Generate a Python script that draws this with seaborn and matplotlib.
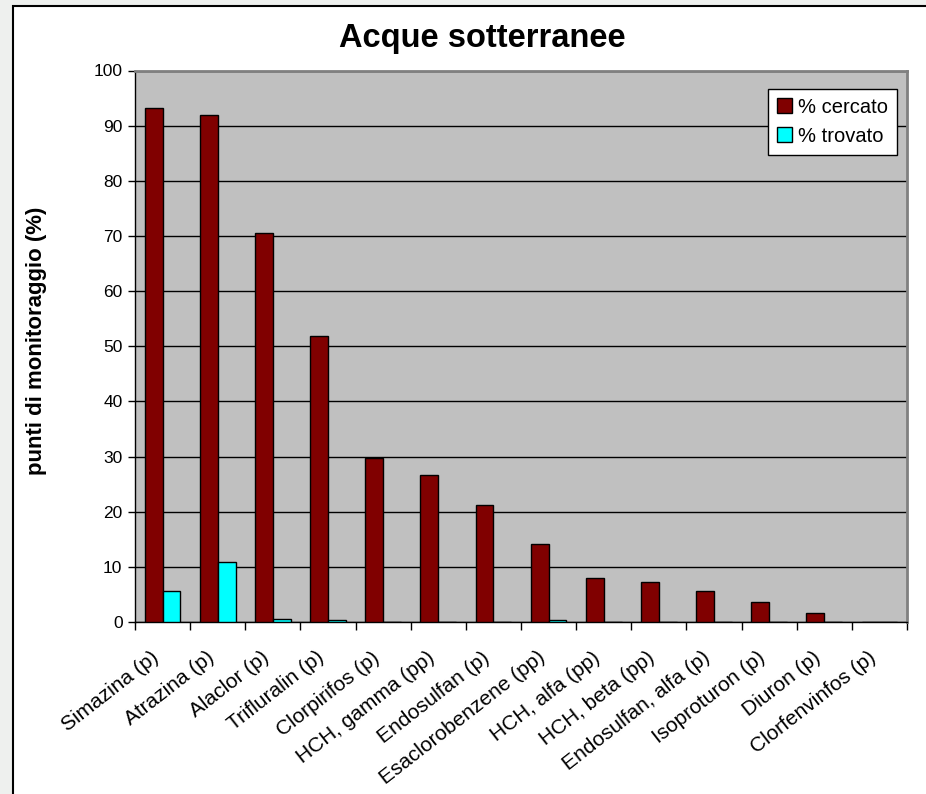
import numpy as np
import pandas as pd
import matplotlib
matplotlib.use("Agg")
import matplotlib.pyplot as plt
from matplotlib.patches import Rectangle
from matplotlib.transforms import ScaledTranslation
import seaborn as sns

# Data
sostanze = ["Simazina (p)", "Atrazina (p)", "Alaclor (p)", "Trifluralin (p)",
            "Clorpirifos (p)", "HCH, gamma (pp)", "Endosulfan (p)",
            "Esaclorobenzene (pp)", "HCH, alfa (pp)", "HCH, beta (pp)",
            "Endosulfan, alfa (p)", "Isoproturon (p)", "Diuron (p)",
            "Clorfenvinfos (p)"]
cercato = [93.2, 92.0, 70.5, 51.9, 29.7, 26.6, 21.2, 14.2, 8.0, 7.2, 5.7, 3.6, 1.6, 0.0]
trovato = [5.6, 10.8, 0.5, 0.3, 0.0, 0.0, 0.0, 0.3, 0.0, 0.0, 0.0, 0.0, 0.0, 0.0]

df = pd.DataFrame({"Sostanza": sostanze * 2,
                   "Valore": cercato + trovato,
                   "Serie": ["% cercato"] * len(sostanze) + ["% trovato"] * len(sostanze)})

sns.set_style("white")
plt.rcParams["font.family"] = ["Liberation Sans", "DejaVu Sans"]
plt.rcParams.update({"text.color": "black", "axes.labelcolor": "black",
                     "xtick.color": "black", "ytick.color": "black"})

fig = plt.figure(figsize=(9.26, 7.94), dpi=100, facecolor="#eef0ee")
# white chart area with a black frame on left/top
fig.patches.append(Rectangle((13 / 926, -0.05), 1.0, 1.05 - 6 / 794, transform=fig.transFigure,
                             facecolor="white", edgecolor="black", linewidth=1.5, zorder=-10))

ax = fig.add_axes([135 / 926, 1 - 622 / 794, (907 - 135) / 926, (622 - 70.5) / 794])
ax.set_facecolor("#c0c0c0")

sns.barplot(data=df, x="Sostanza", y="Valore", hue="Serie",
            palette={"% cercato": "#800000", "% trovato": "#00ffff"}, saturation=1,
            width=0.65, gap=0, edgecolor="black", linewidth=1, ax=ax, zorder=3)

ax.set_ylim(0, 100)
ax.set_xlim(-0.5, len(sostanze) - 0.5)
ax.set_yticks(np.arange(0, 101, 10))
ax.yaxis.grid(True, color="black", linewidth=1)
ax.set_axisbelow(True)
ax.tick_params(axis="y", direction="out", length=5, width=1, color="black",
               labelcolor="black", labelsize=12.5, left=True, pad=4)

ax.set_xticks(range(len(sostanze)))
ax.set_xticklabels(sostanze, rotation=38, ha="right", va="center",
                   rotation_mode="anchor", fontsize=15, color="black")
ax.tick_params(axis="x", which="major", length=0, pad=24)
shift = ScaledTranslation(-6 / 100, 0, fig.dpi_scale_trans)
for lab in ax.get_xticklabels():
    lab.set_transform(lab.get_transform() + shift)
ax.set_xticks(np.arange(-0.5, len(sostanze), 1), minor=True)
ax.tick_params(axis="x", which="minor", direction="out", length=6, width=1, color="black", bottom=True)

for side in ["left", "bottom"]:
    ax.spines[side].set_color("black")
    ax.spines[side].set_linewidth(1)
for side in ["top", "right"]:
    ax.spines[side].set_visible(True)
    ax.spines[side].set_color("#808080")
    ax.spines[side].set_linewidth(2)

ax.set_xlabel("")
ax.set_ylabel("punti di monitoraggio (%)", fontsize=16, fontweight="bold", va="center", color="black")
ax.yaxis.set_label_coords(-0.127, 0.51)
fig.text(482 / 926, 1 - 39 / 794, "Acque sotterranee", fontsize=23.5,
         fontweight="bold", ha="center", va="center", color="black")

leg = ax.legend(loc="upper right", bbox_to_anchor=(0.987, 0.967), fontsize=14.5,
                frameon=True, fancybox=False, edgecolor="black", framealpha=1,
                handlelength=0.75, handleheight=0.75, handletextpad=0.3,
                borderpad=0.45, labelspacing=0.5, borderaxespad=0)
leg.get_frame().set_linewidth(1)
for h in leg.legend_handles:
    h.set_edgecolor("black")
for t in leg.get_texts():
    t.set_color("black")

fig.savefig("out.png", dpi=100, facecolor=fig.get_facecolor())
